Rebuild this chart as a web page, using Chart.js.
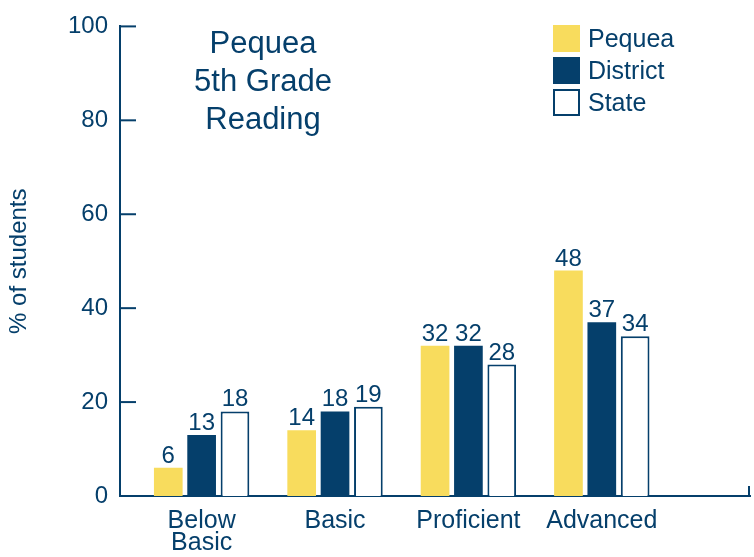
<!DOCTYPE html>
<html>
<head>
<meta charset="utf-8">
<script src="https://cdn.jsdelivr.net/npm/chart.js@4"></script>
<style>
  body { margin: 0; background: #fff; }
</style>
</head>
<body>
<canvas id="readingChart" width="754" height="557"></canvas>
<script>
const categories = [['Below', 'Basic'], 'Basic', 'Proficient', 'Advanced'];
const pequea = [6, 14, 32, 48];
const district = [13, 18, 32, 37];
const state = [18, 19, 28, 34];
const yTicks = [0, 20, 40, 60, 80, 100];
const titleLines = ['Pequea', '5th Grade', 'Reading'];

const navy = '#053f6b';
const yellow = '#f8dc5d';
const font = "'Liberation Sans', Arial, sans-serif";

function toPoints(values) {
    return values.map((v, i) => ({ x: i + 1, y: v }));
}

// ticks pointing into the plot, value labels, title and legend
const extras = {
    id: 'extras',
    afterDraw(chart) {
        const ctx = chart.ctx;
        const area = chart.chartArea;
        const yScale = chart.scales.y;
        ctx.save();
        ctx.strokeStyle = navy;
        ctx.lineWidth = 2;
        yTicks.forEach(t => {
            const py = yScale.getPixelForValue(t);
            ctx.beginPath();
            ctx.moveTo(area.left, py);
            ctx.lineTo(area.left + 16, py);
            ctx.stroke();
        });
        ctx.beginPath();
        ctx.moveTo(area.right - 1, area.bottom);
        ctx.lineTo(area.right - 1, area.bottom - 10);
        ctx.stroke();

        ctx.fillStyle = navy;
        ctx.font = '24px ' + font;
        ctx.textAlign = 'center';
        ctx.textBaseline = 'alphabetic';
        chart.data.datasets.forEach((ds, di) => {
            chart.getDatasetMeta(di).data.forEach((bar, i) => {
                ctx.fillText(ds.data[i].y, bar.x, bar.y - 5);
            });
        });

        ctx.font = '31px ' + font;
        titleLines.forEach((line, i) => {
            ctx.fillText(line, 263, 53 + i * 38);
        });

        ctx.font = '25px ' + font;
        ctx.textAlign = 'left';
        ctx.textBaseline = 'middle';
        chart.data.datasets.forEach((ds, i) => {
            const top = 25 + i * 32;
            ctx.fillStyle = ds.backgroundColor;
            ctx.fillRect(553, top, 27, 27);
            if (ds.backgroundColor === '#ffffff') {
                ctx.strokeStyle = navy;
                ctx.strokeRect(554, top + 1, 25, 25);
            }
            ctx.fillStyle = navy;
            ctx.fillText(ds.label, 588, top + 15);
        });
        ctx.restore();
    }
};

const ctx = document.getElementById('readingChart').getContext('2d');
const readingChart = new Chart(ctx, {
    type: 'bar',
    data: {
        datasets: [{
            label: 'Pequea',
            data: toPoints(pequea),
            backgroundColor: yellow
        }, {
            label: 'District',
            data: toPoints(district),
            backgroundColor: navy
        }, {
            label: 'State',
            data: toPoints(state),
            backgroundColor: '#ffffff',
            borderColor: navy,
            borderWidth: 2
        }]
    },
    options: {
        responsive: false,
        animation: false,
        devicePixelRatio: 1,
        categoryPercentage: 0.75,
        barPercentage: 0.86,
        layout: {
            padding: { top: 22, right: 4, left: 0, bottom: 0 }
        },
        plugins: {
            legend: { display: false },
            tooltip: { enabled: false }
        },
        scales: {
            x: {
                type: 'linear',
                bounds: 'data',
                offset: false,
                min: 0.388,
                max: 5.111,
                afterFit: scale => { scale.height = 61; },
                afterBuildTicks: scale => {
                    scale.ticks = [1, 2, 3, 4, 5].map(v => ({ value: v }));
                },
                grid: { display: false, drawTicks: false, offset: false },
                border: { display: true, color: navy, width: 2 },
                ticks: {
                    maxRotation: 0,
                    autoSkip: false,
                    padding: 14,
                    color: navy,
                    font: { family: font, size: 25, lineHeight: 0.88 },
                    callback: v => categories[v - 1] || ''
                }
            },
            y: {
                min: 0,
                max: 100,
                afterFit: scale => { scale.width = 120; },
                grid: { display: false, drawTicks: false },
                border: { display: true, color: navy, width: 2 },
                ticks: {
                    stepSize: 20,
                    padding: 12,
                    color: navy,
                    font: { family: font, size: 24 }
                },
                title: {
                    display: true,
                    text: '% of students',
                    color: navy,
                    font: { family: font, size: 24 },
                    padding: { top: 5, bottom: 0 }
                }
            }
        }
    },
    plugins: [extras]
});
</script>
</body>
</html>
